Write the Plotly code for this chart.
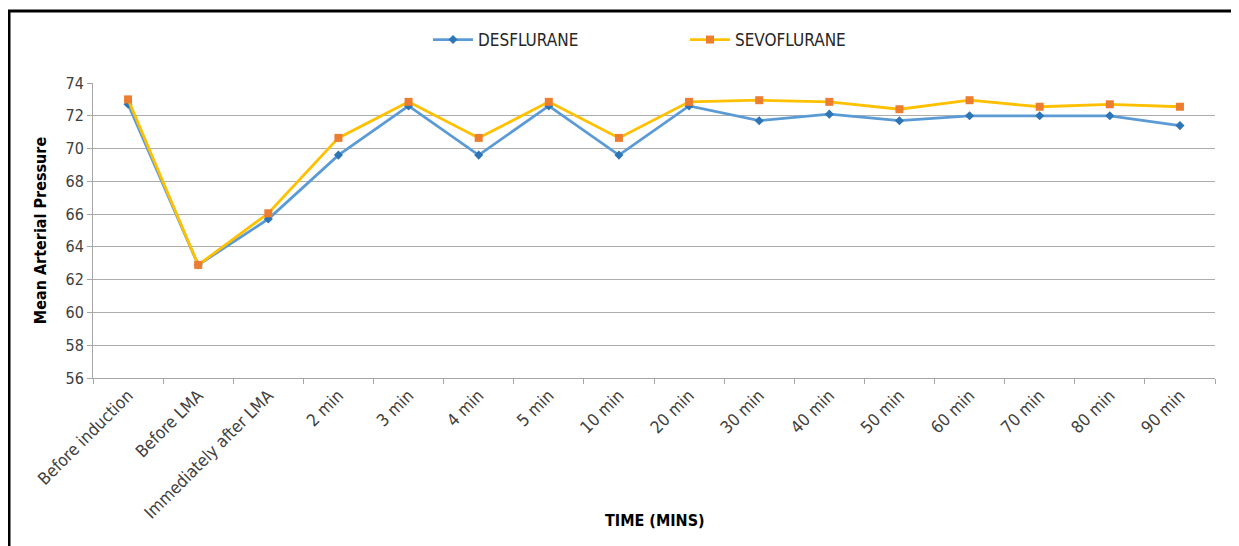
import plotly.graph_objects as go

categories = ["Before induction", "Before LMA", "Immediately after LMA", "2 min", "3 min",
              "4 min", "5 min", "10 min", "20 min", "30 min", "40 min", "50 min",
              "60 min", "70 min", "80 min", "90 min"]
desflurane = [72.7, 62.9, 65.7, 69.6, 72.6, 69.6, 72.6, 69.6, 72.6, 71.7, 72.1, 71.7,
              72.0, 72.0, 72.0, 71.4]
sevoflurane = [73.0, 62.9, 66.05, 70.65, 72.85, 70.65, 72.85, 70.65, 72.85, 72.95, 72.85, 72.4,
               72.95, 72.55, 72.7, 72.55]
y_ticks = [56, 58, 60, 62, 64, 66, 68, 70, 72, 74]

FONT = "DejaVu Sans Condensed, DejaVu Sans, sans-serif"

W, H = 1239, 546
L, R, T, B = 85, 32, 75, 176   # page has an 8px body offset
PW, PH = W - L - R, H - T - B

fig = go.Figure()
fig.add_trace(go.Scatter(
    x=categories, y=desflurane, name="DESFLURANE", mode="lines+markers",
    line=dict(color="#5B9BD5", width=2.8),
    marker=dict(symbol="diamond", size=7, color="#2E75B6"),
))
fig.add_trace(go.Scatter(
    x=categories, y=sevoflurane, name="SEVOFLURANE", mode="lines+markers",
    line=dict(color="#FFC000", width=2.8),
    marker=dict(symbol="square", size=8, color="#ED7D31"),
))

fig.update_layout(
    width=W, height=H,
    margin=dict(l=L, r=R, t=T, b=B),
    paper_bgcolor="white", plot_bgcolor="white",
    font=dict(family=FONT, size=14, color="#404040"),
    showlegend=True,
    legend=dict(orientation="h", x=(428 - 93) / PW, xanchor="left", y=1 + (83 - 40) / PH,
                yanchor="middle",
                font=dict(family=FONT, size=17, color="#262626"),
                entrywidth=202, entrywidthmode="pixels", itemwidth=40),
    xaxis=dict(
        type="category", range=[-0.5, len(categories) - 0.5],
        tickangle=-45, ticks="outside", tickson="boundaries",
        ticklen=5, tickcolor="#A6A6A6", showline=True, linecolor="#A6A6A6", linewidth=1,
        showgrid=False,
        tickfont=dict(family=FONT, size=17, color="#404040"),
    ),
    yaxis=dict(
        range=[56, 74], tickvals=y_ticks, ticks="outside", ticklen=5, tickcolor="#A6A6A6",
        showline=True, linecolor="#A6A6A6", linewidth=1,
        showgrid=True, gridcolor="#ADADAD", gridwidth=1, zeroline=False,
        tickfont=dict(family=FONT, size=16, color="#404040"),
        title=dict(text="<b>Mean Arterial Pressure</b>", font=dict(family=FONT, size=16, color="#000000"),
                   standoff=14),
    ),
)

fig.add_annotation(text="<b>TIME (MINS)</b>", xref="paper", yref="paper",
                   x=(655 - 93) / PW, y=(378 - 520) / PH, xanchor="center", yanchor="middle",
                   showarrow=False, font=dict(family=FONT, size=16, color="#000000"))

fig.add_shape(type="rect", xref="paper", yref="paper",
              x0=(9 - 93) / PW, x1=(1300 - 93) / PW,
              y0=-1.0, y1=1 + (83 - 11) / PH,
              line=dict(color="black", width=3), fillcolor="rgba(0,0,0,0)", layer="above")

fig.write_html("out.html")
